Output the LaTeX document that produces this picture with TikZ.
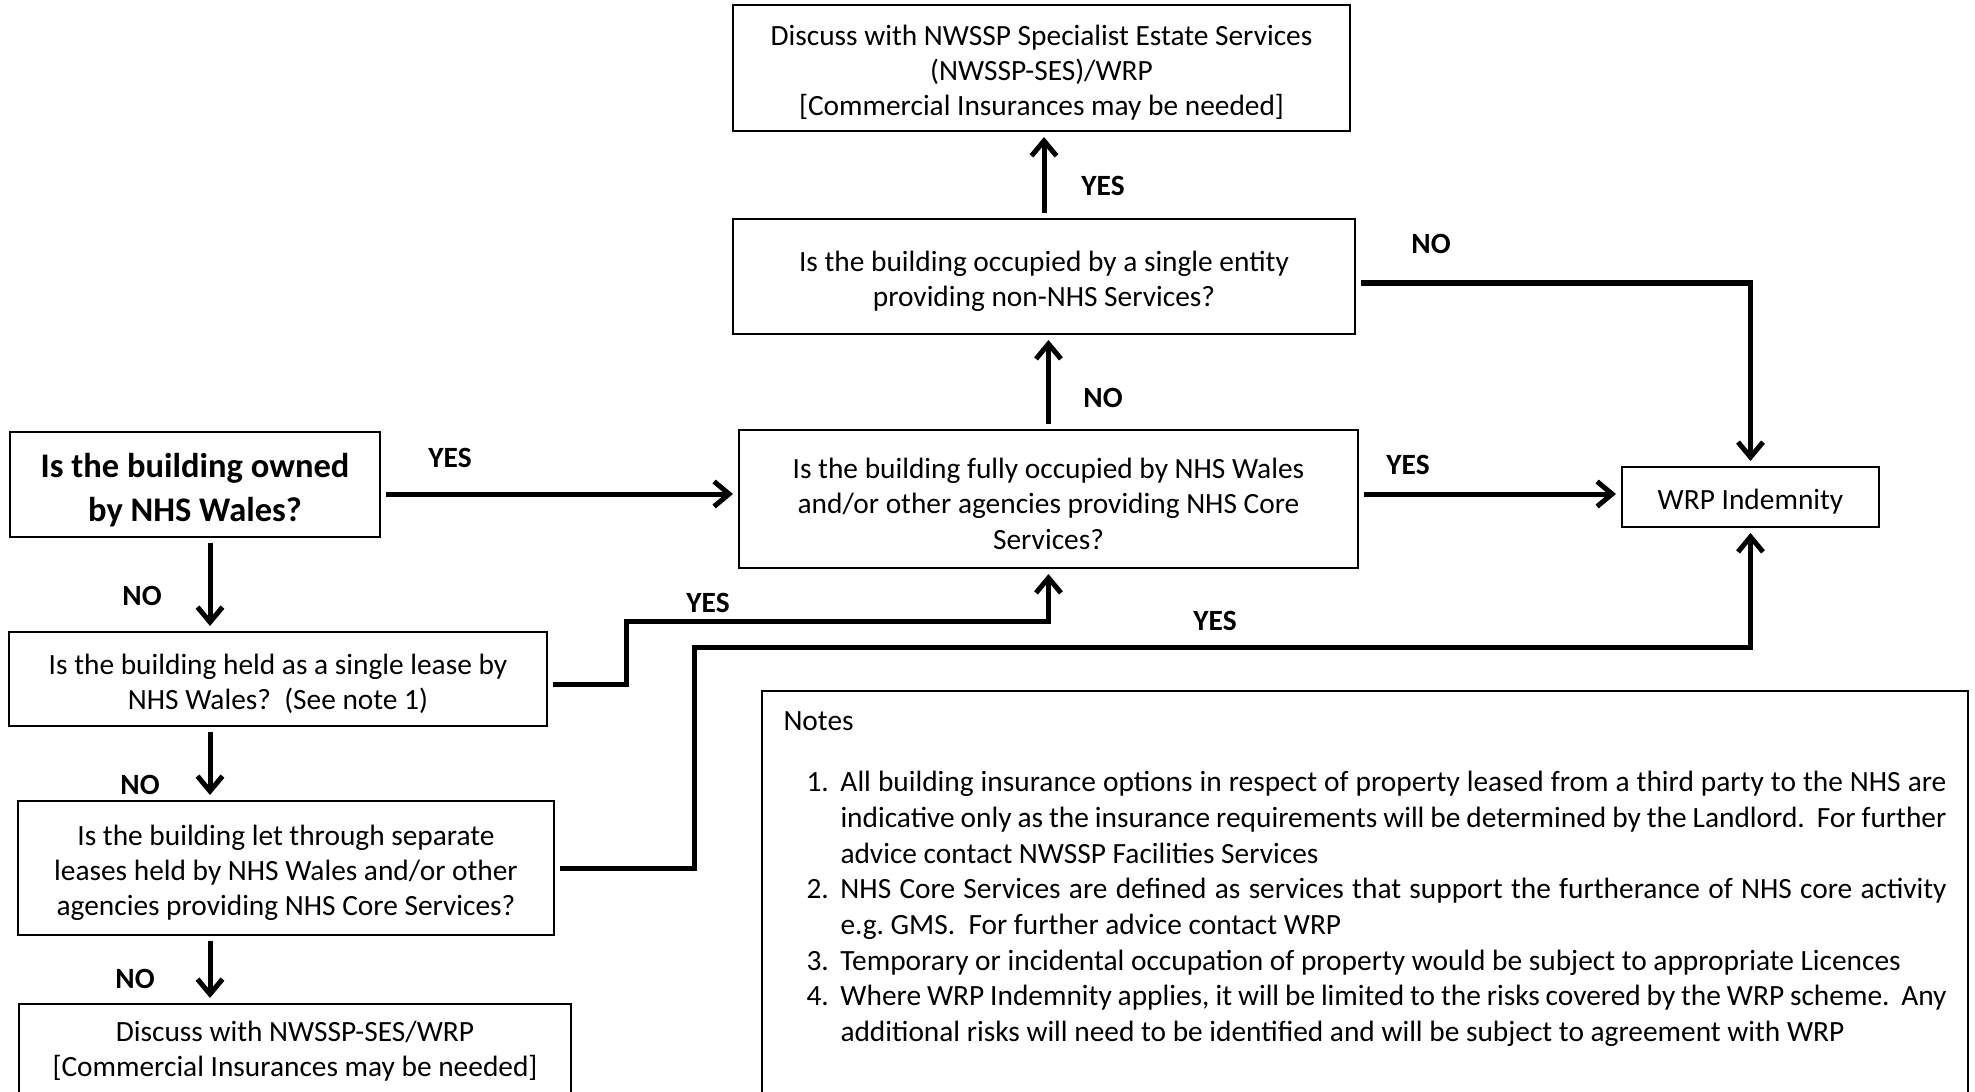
\documentclass[tikz,border=0pt]{standalone}
\usepackage{fontspec}
\setmainfont{Carlito}
\usetikzlibrary{arrows.meta,positioning}
\newcommand{\tstrut}{\rule{0pt}{1.02em}}

\begin{document}
\begin{tikzpicture}[
    x=0.4pt, y=-0.4pt,
    box/.style={rectangle, draw, line width=0.8pt, align=center, inner sep=2pt, font=\fontsize{11.75}{14.1}\selectfont},
    startbox/.style={box, font=\bfseries\fontsize{13.8}{17.6}\selectfont},
    lbl/.style={font=\bfseries\fontsize{11.75}{14.1}\selectfont, inner sep=0pt},
    notetext/.style={align=justify, inner sep=0pt, font=\fontsize{11.75}{14.25}\selectfont},
    arrow/.style={-{Straight Barb[length=6pt,width=10pt]}, line width=2pt, shorten >=2pt, shorten <=2pt}
]
    \useasboundingbox (0,0) rectangle (1975,1092);

    % Nodes
    \node[startbox, minimum width=148pt, minimum height=42pt] (owned) at (195,484.5) {\tstrut Is the building owned\\by NHS Wales?};
    \node[box, minimum width=215.2pt, minimum height=37.6pt] (lease) at (278,679) {\tstrut Is the building held as a single lease by\\NHS Wales?\ \ (See note 1)};
    \node[box, minimum width=214.4pt, minimum height=53.6pt] (separate) at (286,868) {\tstrut Is the building let through separate\\leases held by NHS Wales and/or other\\agencies providing NHS Core Services?};
    \node[box, minimum width=220.8pt, minimum height=37.6pt, anchor=north] (discussb) at (295,1003) {Discuss with NWSSP-SES/WRP\\{[Commercial Insurances may be needed]}};
    \node[box, minimum width=246.8pt, minimum height=50.4pt] (discusst) at (1041.5,68) {\tstrut Discuss with NWSSP Specialist Estate Services\\(NWSSP-SES)/WRP\\{[Commercial Insurances may be needed]}};
    \node[box, minimum width=248.8pt, minimum height=46pt] (entity) at (1044,276.5) {\tstrut Is the building occupied by a single entity\\providing non-NHS Services?};
    \node[box, minimum width=247.6pt, minimum height=55.2pt] (fully) at (1048.5,499) {\tstrut Is the building fully occupied by NHS Wales\\and/or other agencies providing NHS Core\\Services?};
    \node[box, minimum width=102.8pt, minimum height=24pt] (wrp) at (1750.5,497) {\tstrut WRP Indemnity};

    % Notes
    \node[draw, line width=0.8pt, anchor=north west, minimum width=482.4pt, minimum height=168pt] (notesbox) at (761,690) {};
    \node[notetext, anchor=west] (notestitle) at (783,721) {Notes};
    \node[notetext, text width=456pt, anchor=north west] (notelist) at (806,771) {%
        \hangindent=13.6pt\hangafter=1\noindent\makebox[13.6pt][l]{1.}All building insurance options in respect of property leased from a third party to the NHS are indicative only as the insurance requirements will be determined by the Landlord.\ \ For further advice contact NWSSP Facilities Services\par
        \hangindent=13.6pt\hangafter=1\noindent\makebox[13.6pt][l]{2.}NHS Core Services are defined as services that support the furtherance of NHS core activity e.g.~GMS.\ \ For further advice contact WRP\par
        \hangindent=13.6pt\hangafter=1\noindent\makebox[13.6pt][l]{3.}Temporary or incidental occupation of property would be subject to appropriate Licences\par
        \hangindent=13.6pt\hangafter=1\noindent\makebox[13.6pt][l]{4.}Where WRP Indemnity applies, it will be limited to the risks covered by the WRP scheme.\ \ Any additional risks will need to be identified and will be subject to agreement with WRP\par};

    % Labels
    \node[lbl] (yesowned) at (450,458) {YES};
    \node[lbl] (noowned) at (142,596) {NO};
    \node[lbl] (nolease) at (140,785) {NO};
    \node[lbl] (nosep) at (135,979) {NO};
    \node[lbl] (yeslease) at (708,603) {YES};
    \node[lbl] (yessep) at (1215,621) {YES};
    \node[lbl] (nofully) at (1103,398) {NO};
    \node[lbl] (yesentity) at (1103,186) {YES};
    \node[lbl] (noentity) at (1431,244) {NO};
    \node[lbl] (yesfully) at (1408,465) {YES};

    % Arrows
    \coordinate (colA) at (210,0);
    \coordinate (jogA) at (626,621);
    \coordinate (jogB) at (694,647);
    \draw[arrow] (owned.south -| colA) -- (lease.north -| colA);
    \draw[arrow] (lease.south -| colA) -- (separate.north -| colA);
    \draw[arrow] (separate.south -| colA) -- (discussb.north -| colA);
    \draw[arrow] ([yshift=2pt]owned.east |- fully.west) -- ([yshift=2pt]fully.west);
    \draw[arrow] ([yshift=-2pt]lease.east) -| (jogA) -| (fully.south);
    \draw[arrow] (separate.east) -| (jogB) -| (wrp.south);
    \draw[arrow] (fully.north) -- (fully.north |- entity.south);
    \draw[arrow] (entity.north) -- (entity.north |- discusst.south);
    \draw[arrow] ([yshift=-2.6pt]entity.east) -| (wrp.north);
    \draw[arrow] ([yshift=2pt]fully.east) -- ([yshift=2pt]fully.east -| wrp.west);
\end{tikzpicture}
\end{document}
